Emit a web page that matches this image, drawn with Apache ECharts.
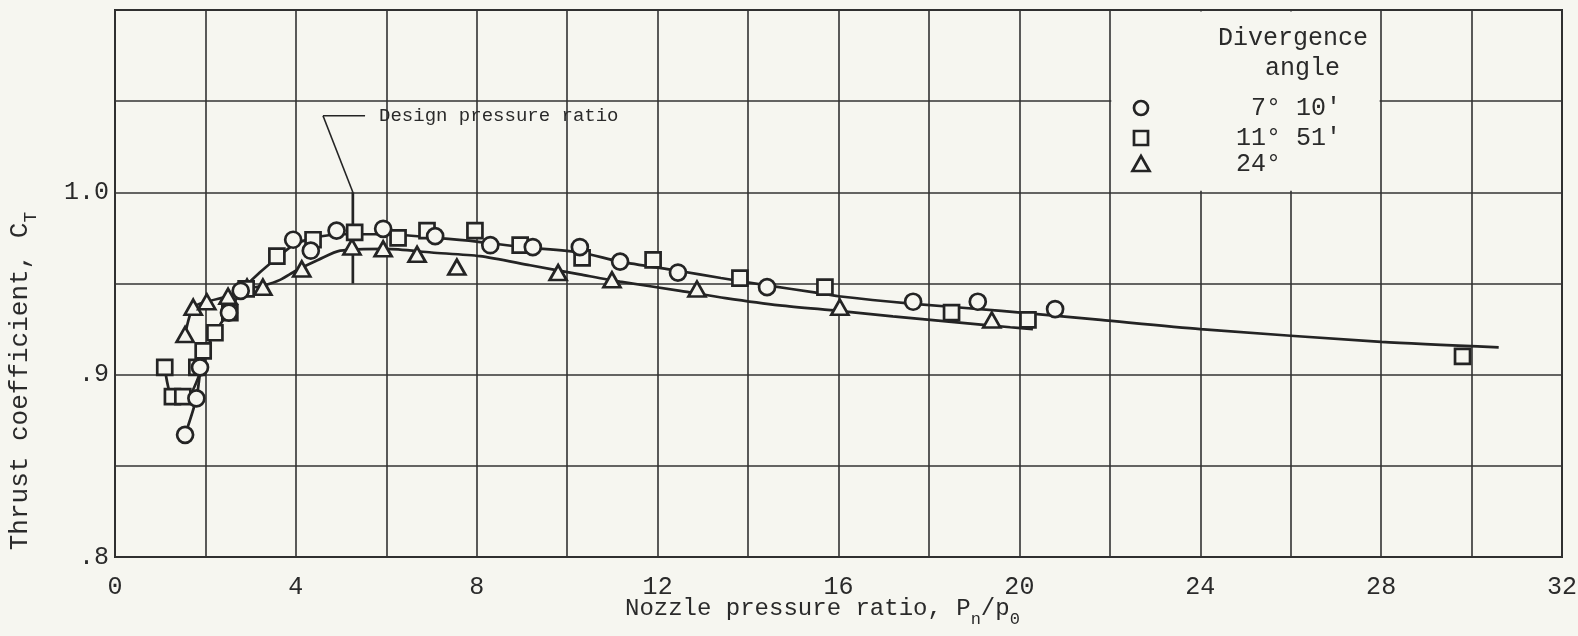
<!DOCTYPE html>
<html><head><meta charset="utf-8">
<script src="https://cdn.jsdelivr.net/npm/echarts/dist/echarts.min.js"></script>
<style>html,body{margin:0;padding:0;background:#f6f6f0}#c{width:1578px;height:636px}</style>
</head><body><div id="c"></div><script>
// ---- data ----
const xTickLabels = [0, 4, 8, 12, 16, 20, 24, 28, 32];
const yTickValues = [0.8, 0.9, 1.0];
const yTickLabels = ['.8', '.9', '1.0'];

const circles = [[1.55,0.867],[1.8,0.887],[1.88,0.904],[2.52,0.934],[2.78,0.946],[3.94,0.974],[4.33,0.968],[4.9,0.979],[5.93,0.980],[7.08,0.976],[8.3,0.971],[9.24,0.970],[10.28,0.970],[11.17,0.962],[12.45,0.956],[14.42,0.948],[17.65,0.940],[19.08,0.940],[20.79,0.936]];
const squares = [[1.1,0.904],[1.27,0.888],[1.5,0.888],[1.81,0.904],[1.95,0.913],[2.21,0.923],[2.54,0.934],[2.9,0.947],[3.58,0.965],[4.38,0.974],[5.3,0.978],[6.26,0.975],[6.9,0.979],[7.96,0.979],[8.96,0.971],[10.33,0.964],[11.9,0.963],[13.82,0.953],[15.7,0.948],[18.5,0.934],[20.19,0.930],[29.8,0.910]];
const triangles = [[1.55,0.922],[1.73,0.937],[2.03,0.940],[2.5,0.943],[2.92,0.948],[3.27,0.948],[4.13,0.958],[5.24,0.970],[5.93,0.969],[6.68,0.966],[7.56,0.959],[9.8,0.956],[10.99,0.952],[12.87,0.947],[16.03,0.937],[19.39,0.930]];

const curveCircleLow = [[1.55,0.867],[1.8,0.887],[1.9,0.904],[2.0,0.913]];
const curveSquareLow = [[1.1,0.904],[1.27,0.888],[1.6,0.888],[1.85,0.899],[2.0,0.913]];
const curveUpper = [[2.0,0.913],[2.21,0.923],[2.5,0.934],[2.83,0.947],[3.2,0.956],[3.58,0.964],[3.94,0.971],[4.4,0.975],[5.0,0.977],[6.0,0.977],[7.1,0.975],[8.0,0.973],[9.0,0.970],[10.3,0.967],[11.17,0.962],[12.45,0.957],[13.4,0.953],[14.42,0.949],[15.5,0.945],[16.0,0.943],[17.6,0.939],[19.6,0.935],[21.8,0.930],[24.0,0.925],[28.0,0.918],[30.6,0.915]];
const curveLower = [[1.55,0.922],[1.73,0.937],[2.03,0.940],[2.5,0.943],[2.92,0.947],[3.3,0.949],[3.65,0.952],[4.0,0.957],[4.5,0.963],[4.98,0.968],[6.0,0.969],[7.0,0.967],[8.07,0.965],[9.18,0.960],[10.28,0.955],[11.17,0.951],[12.5,0.946],[13.5,0.942],[14.7,0.938],[16.0,0.935],[17.2,0.932],[18.5,0.929],[19.8,0.926],[20.3,0.925]];

const designLeaderH = [[4.6,1.042],[5.53,1.042]];
const designLeaderD = [[4.6,1.042],[5.26,1.0]];
const designMark = [[5.26,1.0],[5.26,0.95]];
const designLabel = 'Design pressure ratio';

const legendTitle = ['Divergence', 'angle'];
const legendLabels = ["7° 10'", "11° 51'", "24°"];
const xTitle = ['Nozzle pressure ratio, P', 'n', '/p', '0'];
const yTitle = ['Thrust coefficient, C', 'T'];

// ---- styling ----
const BG = '#f6f6f0';
const INK = '#242424';
const TXT = '#2a2a2a';
const FONT = '"Liberation Mono", "DejaVu Sans Mono", monospace';

const chart = echarts.init(document.getElementById('c'), null, {renderer: 'canvas'});

function curve(data, w) {
  return {type: 'line', data: data, symbol: 'none', showSymbol: false, smooth: 0.25, silent: true,
    lineStyle: {color: INK, width: w || 2.7}, z: 3, animation: false};
}
function marks(data, symbol, size) {
  return {type: 'scatter', data: data, symbol: symbol, symbolSize: size, silent: true, z: 6,
    itemStyle: {color: BG, borderColor: INK, borderWidth: 2.7, opacity: 1}};
}

const option = {
  backgroundColor: BG,
  animation: false,
  grid: {left: 115, top: 10, width: 1447, height: 547, show: true, borderColor: '#2a2a2a', borderWidth: 2,
    backgroundColor: 'rgba(0,0,0,0)', containLabel: false, outerBoundsMode: 'none'},
  xAxis: {type: 'value', min: 0, max: 32, interval: 2,
    axisLine: {show: false}, axisTick: {show: false},
    splitLine: {show: true, lineStyle: {color: '#333', width: 1.6}},
    axisLabel: {margin: 18, fontFamily: FONT, fontSize: 25, color: TXT,
      formatter: v => xTickLabels.indexOf(Math.round(v)) >= 0 && Math.abs(v - Math.round(v)) < 1e-6 ? String(Math.round(v)) : ''}},
  yAxis: {type: 'value', min: 0.8, max: 1.1, interval: 0.05,
    axisLine: {show: false}, axisTick: {show: false},
    splitLine: {show: true, lineStyle: {color: '#333', width: 1.6}},
    axisLabel: {margin: 6, fontFamily: FONT, fontSize: 25, color: TXT,
      formatter: v => { for (let i = 0; i < yTickValues.length; i++) { if (Math.abs(v - yTickValues[i]) < 1e-6) return yTickLabels[i]; } return ''; }}},
  series: [
    curve(curveCircleLow), curve(curveSquareLow), curve(curveUpper), curve(curveLower),
    curve(designLeaderH, 1.6), curve(designLeaderD, 1.6), curve(designMark, 2.7),
    marks(triangles, 'triangle', [17, 15]),
    marks(squares, 'rect', 15),
    marks(circles, 'circle', 16)
  ]
};
chart.setOption(option);

// ---- graphic: legend box, annotation and axis titles ----
const p1 = chart.convertToPixel({gridIndex: 0}, [22, 1.1]);
const p2 = chart.convertToPixel({gridIndex: 0}, [28, 1.0]);
const pd = chart.convertToPixel({gridIndex: 0}, designLeaderH[1]);
const lx = 1141;
const rows = [108, 138, 164];
const txt = (x, y, t, size, align) => ({type: 'text', x: x, y: y, z: 52,
  style: {text: t, fontFamily: FONT, fontSize: size, fill: TXT, textAlign: align || 'left', textVerticalAlign: 'middle'}});
const symStyle = {fill: BG, stroke: INK, lineWidth: 2.7};

chart.setOption({graphic: [
  {type: 'rect', z: 50, shape: {x: p1[0] + 1.5, y: p1[1] + 1.5, width: p2[0] - p1[0] - 3, height: p2[1] - p1[1] - 3},
    style: {fill: BG}},
  txt(1218, 38, legendTitle[0], 25),
  txt(1265, 68, legendTitle[1], 25),
  {type: 'circle', z: 52, shape: {cx: lx, cy: rows[0], r: 7}, style: symStyle},
  {type: 'rect', z: 52, shape: {x: lx - 7, y: rows[1] - 7, width: 14, height: 14}, style: symStyle},
  {type: 'polygon', z: 52, shape: {points: [[lx, rows[2] - 8], [lx - 8.5, rows[2] + 7], [lx + 8.5, rows[2] + 7]]}, style: symStyle},
  txt(1251, rows[0], legendLabels[0], 25),
  txt(1236, rows[1], legendLabels[1], 25),
  txt(1236, rows[2], legendLabels[2], 25),
  txt(pd[0] + 14, pd[1], designLabel, 19),
  {type: 'text', x: 625, y: 612, z: 52,
    style: {text: '{a|' + xTitle[0] + '}{s|' + xTitle[1] + '}{a|' + xTitle[2] + '}{s|' + xTitle[3] + '}',
      textAlign: 'left', textVerticalAlign: 'middle', fill: TXT,
      rich: {a: {fontFamily: FONT, fontSize: 24, lineHeight: 24, verticalAlign: 'top', fill: TXT},
             s: {fontFamily: FONT, fontSize: 17, lineHeight: 31, verticalAlign: 'bottom', fill: TXT}}}},
  {type: 'text', x: 24, y: 381, rotation: Math.PI / 2, z: 52,
    style: {text: '{a|' + yTitle[0] + '}{s|' + yTitle[1] + '}',
      textAlign: 'center', textVerticalAlign: 'middle', fill: TXT,
      rich: {a: {fontFamily: FONT, fontSize: 26, lineHeight: 26, verticalAlign: 'top', fill: TXT},
             s: {fontFamily: FONT, fontSize: 18, lineHeight: 33, verticalAlign: 'bottom', fill: TXT}}}}
]});
</script></body></html>
